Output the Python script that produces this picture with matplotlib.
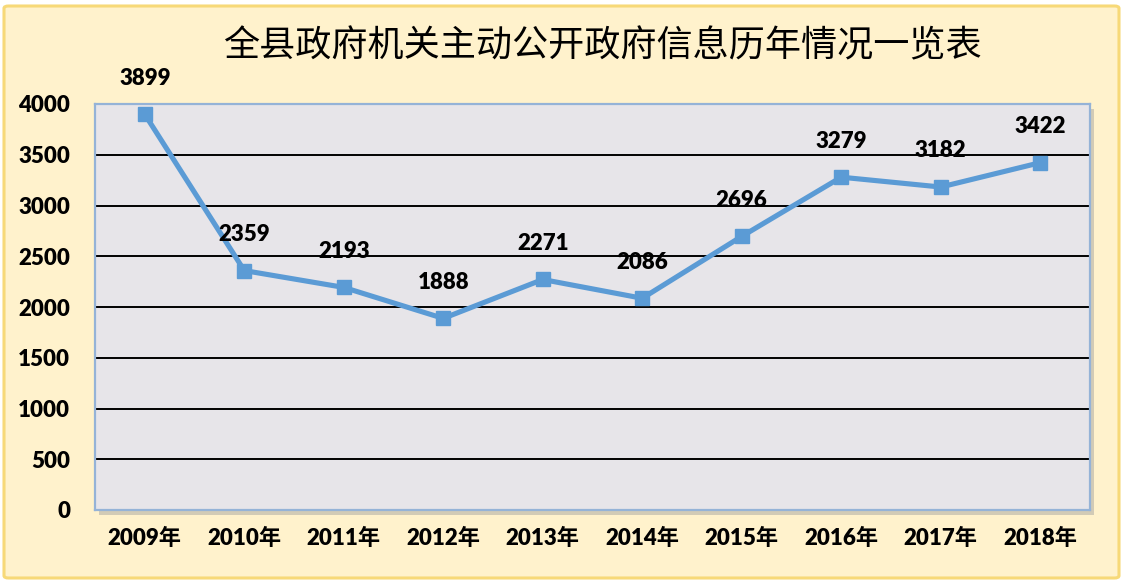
import matplotlib.pyplot as plt
from matplotlib.patches import FancyBboxPatch, Rectangle

plt.rcParams['font.family'] = ['Lato', 'Noto Sans CJK SC', 'DejaVu Sans']

# 数据
years = ['2009年', '2010年', '2011年', '2012年', '2013年',
         '2014年', '2015年', '2016年', '2017年', '2018年']
counts = [3899, 2359, 2193, 1888, 2271, 2086, 2696, 3279, 3182, 3422]
yticks = [0, 500, 1000, 1500, 2000, 2500, 3000, 3500, 4000]

W, H = 1124, 583
fig = plt.figure(figsize=(W / 100, H / 100), dpi=100)
fig.patch.set_facecolor('white')

# 外框 (浅黄底 + 黄边)
frame = FancyBboxPatch((4 / W, 5 / H), (W - 9) / W, (H - 11) / H,
                       boxstyle='round,pad=0,rounding_size=0.004',
                       transform=fig.transFigure, facecolor='#FFF2CC',
                       edgecolor='#F7D978', linewidth=2.2, zorder=-2)
fig.patches.append(frame)

# 绘图区
left, right, top, bottom = 95, 1090, 104, 510
ax = fig.add_axes([left / W, 1 - bottom / H, (right - left) / W, (bottom - top) / H])

# 阴影
shadow = Rectangle(((left + 4) / W, 1 - (bottom + 5) / H), (right - left) / W,
                   (bottom - top) / H, transform=fig.transFigure,
                   facecolor='#D2CBB6', edgecolor='none', zorder=-1)
fig.patches.append(shadow)

ax.set_facecolor('#E7E5E9')
for s in ax.spines.values():
    s.set_color('#95B3D7')
    s.set_linewidth(1.6)

ax.set_xlim(-0.5, len(years) - 0.5)
ax.set_ylim(0, 4000)
ax.set_yticks(yticks)
ax.set_yticklabels([str(v) for v in yticks], fontsize=16, fontweight='heavy')
ax.set_xticks(range(len(years)))
ax.set_xticklabels(years, fontsize=16, fontweight='heavy')
ax.tick_params(axis='both', length=0)
ax.tick_params(axis='y', pad=18)
ax.tick_params(axis='x', pad=13)
ax.yaxis.grid(True, color='black', linewidth=1.4)
ax.set_axisbelow(True)

x = list(range(len(years)))
ax.plot(x, counts, color='#5B9BD5', linewidth=3.7, marker='s',
        markersize=10, zorder=3, clip_on=False)

for xi, v in zip(x, counts):
    ax.annotate(str(v), (xi, v), xytext=(0, 26), textcoords='offset points',
                ha='center', va='center', fontsize=16, fontweight='heavy',
                color='black', zorder=4, annotation_clip=False)

fig.text(602 / W, 1 - 46 / H, '全县政府机关主动公开政府信息历年情况一览表',
         ha='center', va='center', fontsize=26, fontweight='medium',
         family=['Noto Sans CJK SC', 'DejaVu Sans'], color='black')

fig.savefig('out.png', dpi=100)
